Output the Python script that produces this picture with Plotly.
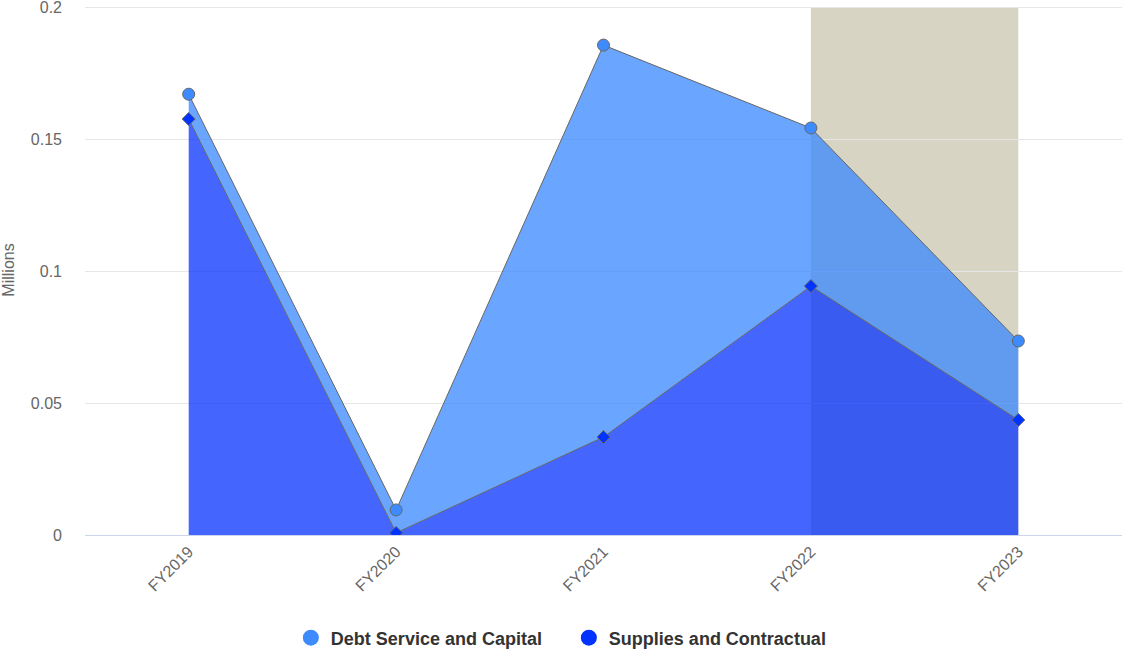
import plotly.graph_objects as go

categories = ["FY2019", "FY2020", "FY2021", "FY2022", "FY2023"]
supplies = [0.1576, 0.0008, 0.0371, 0.0943, 0.0436]
debt = [0.0094, 0.0087, 0.1485, 0.0599, 0.0299]
series_names = ["Debt Service and Capital", "Supplies and Contractual"]
y_ticks = [0, 0.05, 0.1, 0.15, 0.2]
y_tick_labels = ["0", "0.05", "0.1", "0.15", "0.2"]
projection_start, projection_end = "FY2022", "FY2023"

FONT = "Arial, Liberation Sans, sans-serif"
fig = go.Figure()

fig.add_trace(go.Scatter(
    x=categories, y=supplies, name=series_names[1], stackgroup="one",
    mode="lines+markers", showlegend=False,
    line=dict(color="#666666", width=1),
    fillcolor="rgba(5,51,255,0.75)",
    marker=dict(symbol="diamond", size=10, color="#0033ff",
                line=dict(color="#666666", width=1)),
))
fig.add_trace(go.Scatter(
    x=categories, y=debt, name=series_names[0], stackgroup="one",
    mode="lines+markers", showlegend=False,
    line=dict(color="#666666", width=1),
    fillcolor="rgba(56,136,255,0.75)",
    marker=dict(symbol="circle", size=12, color="#3d8bff",
                line=dict(color="#666666", width=1)),
))
# legend entries
fig.add_trace(go.Scatter(x=[None], y=[None], mode="markers", name=series_names[0],
                         marker=dict(symbol="circle", size=17, color="#3d8bff")))
fig.add_trace(go.Scatter(x=[None], y=[None], mode="markers", name=series_names[1],
                         marker=dict(symbol="circle", size=17, color="#0033ff")))

idx0 = categories.index(projection_start)
idx1 = categories.index(projection_end)
fig.add_shape(type="rect", xref="x", yref="y", x0=idx0, x1=idx1, y0=0, y1=0.2,
              fillcolor="#d8d4c4", line=dict(width=0), layer="below")

fig.update_layout(
    width=1122, height=655,
    margin=dict(l=85, r=0, t=5, b=120),
    paper_bgcolor="white", plot_bgcolor="white",
    font=dict(family=FONT, color="#666666", size=16),
    showlegend=True,
    legend=dict(orientation="h", xref="container", x=0.507, xanchor="center",
                yref="container", y=0.026, yanchor="middle",
                traceorder="normal", entrywidth=233,
                font=dict(size=18, color="#333333", weight="bold"),
                itemsizing="trace"),
    xaxis=dict(type="category", range=[-0.5, 4.5], tickangle=-45,
               showgrid=False, showline=True, linecolor="#ccd6eb", linewidth=1,
               ticks="", tickfont=dict(size=16, color="#666666"), fixedrange=True),
    yaxis=dict(range=[0, 0.2008], tickvals=y_ticks, ticktext=y_tick_labels,
               showgrid=True, gridcolor="#e6e6e6", gridwidth=1, zeroline=False,
               showline=False, ticks="", ticklabelstandoff=22,
               ticklabeloverflow="allow", fixedrange=True,
               tickfont=dict(size=16, color="#666666"),
               title=dict(text="Millions", font=dict(size=16, color="#666666"), standoff=14)),
)

fig.write_html("out.html", config={"displayModeBar": False},
               post_script="document.body.style.margin='0';")
